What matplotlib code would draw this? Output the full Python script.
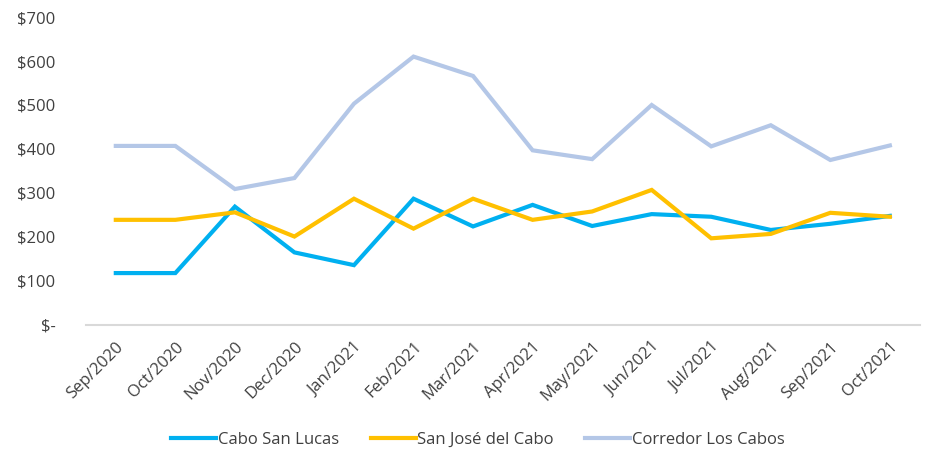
import matplotlib.pyplot as plt
from matplotlib.ticker import FuncFormatter

# Datos
meses = ["Sep/2020", "Oct/2020", "Nov/2020", "Dec/2020", "Jan/2021", "Feb/2021", "Mar/2021",
         "Apr/2021", "May/2021", "Jun/2021", "Jul/2021", "Aug/2021", "Sep/2021", "Oct/2021"]
cabo_san_lucas = [118, 118, 269, 165, 136, 287, 224, 273, 225, 252, 246, 216, 230, 248]
san_jose = [239, 239, 256, 201, 287, 219, 287, 239, 258, 307, 197, 207, 255, 246]
corredor = [407, 407, 309, 334, 503, 610, 566, 397, 377, 500, 406, 454, 375, 408]

plt.rcParams['font.family'] = ['Open Sans', 'DejaVu Sans']

fig = plt.figure(figsize=(9.28, 4.51), dpi=100)
ax = fig.add_axes([0.0927, 0.2794, 0.8983, 0.6829])

x = range(len(meses))
ax.plot(x, cabo_san_lucas, color='#00B0F0', lw=3, label='Cabo San Lucas', solid_joinstyle='miter')
ax.plot(x, san_jose, color='#FFC000', lw=3, label='San José del Cabo', solid_joinstyle='miter')
ax.plot(x, corredor, color='#B4C7E7', lw=3, label='Corredor Los Cabos', solid_joinstyle='miter')

ax.set_xlim(-0.5, len(meses) - 0.5)
ax.set_ylim(0, 700)
ax.set_yticks(range(0, 701, 100))
ax.yaxis.set_major_formatter(FuncFormatter(lambda v, p: "$-" if v == 0 else f"${int(v)}"))

ax.set_xticks(list(x))
ax.set_xticklabels(meses, rotation=45, ha='right', rotation_mode='anchor')

for s in ['top', 'right', 'left']:
    ax.spines[s].set_visible(False)
ax.spines['bottom'].set_color('#D9D9D9')
ax.spines['bottom'].set_linewidth(1.5)
ax.tick_params(axis='both', length=0, labelsize=12, colors='#404040')
ax.tick_params(axis='y', pad=22)
ax.tick_params(axis='x', pad=10)

fig.legend(loc='center', bbox_to_anchor=(0.515, 0.025), ncol=3, frameon=False,
           fontsize=12, handlelength=2.7, handletextpad=0.1, columnspacing=1.9,
           labelcolor='#404040')

fig.savefig("out.png", dpi=100)
